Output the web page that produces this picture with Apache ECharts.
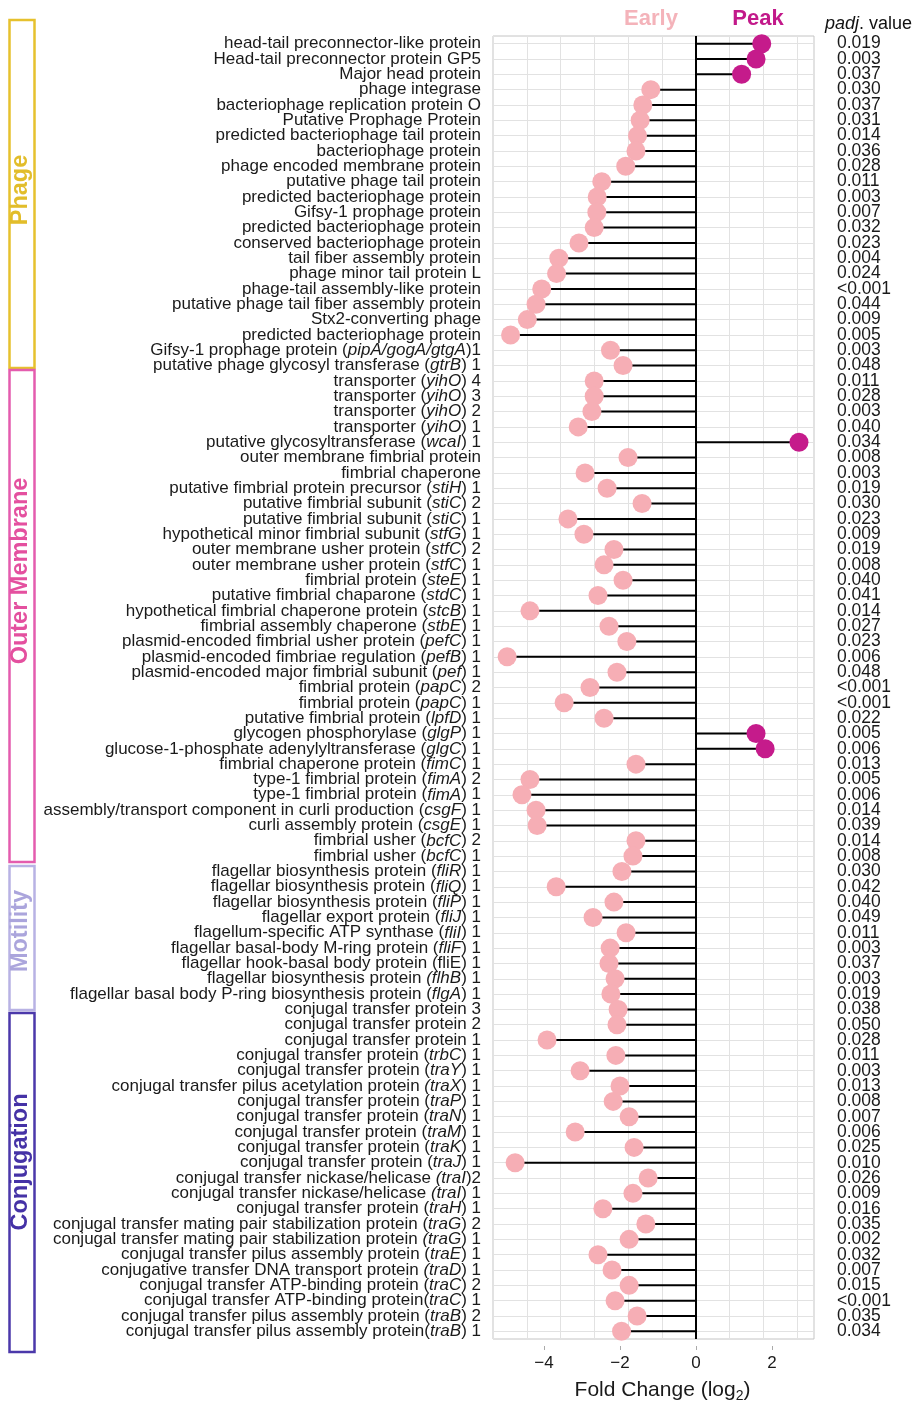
<!DOCTYPE html>
<html>
<head>
<meta charset="utf-8">
<script src="https://cdn.jsdelivr.net/npm/echarts@6/dist/echarts.min.js"></script>
<style>
  html, body { margin: 0; padding: 0; background: #ffffff; }
  #chart { width: 913px; height: 1408px; }
</style>
</head>
<body>
<div id="chart"></div>
<script>
// Gene descriptions, top to bottom; {i|...} marks italic gene names
const labels = [
  'head-tail preconnector-like protein',
  'Head-tail preconnector protein GP5',
  'Major head protein',
  'phage integrase',
  'bacteriophage replication protein O',
  'Putative Prophage Protein',
  'predicted bacteriophage tail protein',
  'bacteriophage protein',
  'phage encoded membrane protein',
  'putative phage tail protein',
  'predicted bacteriophage protein',
  'Gifsy-1 prophage protein',
  'predicted bacteriophage protein',
  'conserved bacteriophage protein',
  'tail fiber assembly protein',
  'phage minor tail protein L',
  'phage-tail assembly-like protein',
  'putative phage tail fiber assembly protein',
  'Stx2-converting phage',
  'predicted bacteriophage protein',
  'Gifsy-1 prophage protein ({i|pipA/gogA/gtgA})1',
  'putative phage glycosyl transferase ({i|gtrB}) 1',
  'transporter ({i|yihO}) 4',
  'transporter ({i|yihO}) 3',
  'transporter ({i|yihO}) 2',
  'transporter ({i|yihO}) 1',
  'putative glycosyltransferase ({i|wcaI}) 1',
  'outer membrane fimbrial protein',
  'fimbrial chaperone',
  'putative fimbrial protein precursor ({i|stiH}) 1',
  'putative fimbrial subunit ({i|stiC}) 2',
  'putative fimbrial subunit ({i|stiC}) 1',
  'hypothetical minor fimbrial subunit ({i|stfG}) 1',
  'outer membrane usher protein ({i|stfC}) 2',
  'outer membrane usher protein ({i|stfC}) 1',
  'fimbrial protein ({i|steE}) 1',
  'putative fimbrial chaparone ({i|stdC}) 1',
  'hypothetical fimbrial chaperone protein ({i|stcB}) 1',
  'fimbrial assembly chaperone ({i|stbE}) 1',
  'plasmid-encoded fimbrial usher protein ({i|pefC}) 1',
  'plasmid-encoded fimbriae regulation ({i|pefB}) 1',
  'plasmid-encoded major fimbrial subunit ({i|pef}) 1',
  'fimbrial protein ({i|papC}) 2',
  'fimbrial protein ({i|papC}) 1',
  'putative fimbrial protein ({i|lpfD}) 1',
  'glycogen phosphorylase ({i|glgP}) 1',
  'glucose-1-phosphate adenylyltransferase ({i|glgC}) 1',
  'fimbrial chaperone protein ({i|fimC}) 1',
  'type-1 fimbrial protein ({i|fimA}) 2',
  'type-1 fimbrial protein ({i|fimA}) 1',
  'assembly/transport component in curli production ({i|csgF}) 1',
  'curli assembly protein ({i|csgE}) 1',
  'fimbrial usher ({i|bcfC}) 2',
  'fimbrial usher ({i|bcfC}) 1',
  'flagellar biosynthesis protein ({i|fliR}) 1',
  'flagellar biosynthesis protein ({i|fliQ}) 1',
  'flagellar biosynthesis protein ({i|fliP}) 1',
  'flagellar export protein ({i|fliJ}) 1',
  'flagellum-specific ATP synthase ({i|fliI}) 1',
  'flagellar basal-body M-ring protein ({i|fliF}) 1',
  'flagellar hook-basal body protein (fliE) 1',
  'flagellar biosynthesis protein {i|(flhB}) 1',
  'flagellar basal body P-ring biosynthesis protein ({i|flgA}) 1',
  'conjugal transfer protein 3',
  'conjugal transfer protein 2',
  'conjugal transfer protein 1',
  'conjugal transfer protein ({i|trbC}) 1',
  'conjugal transfer protein ({i|traY}) 1',
  'conjugal transfer pilus acetylation protein {i|(traX}) 1',
  'conjugal transfer protein ({i|traP}) 1',
  'conjugal transfer protein ({i|traN}) 1',
  'conjugal transfer protein ({i|traM}) 1',
  'conjugal transfer protein ({i|traK}) 1',
  'conjugal transfer protein ({i|traJ}) 1',
  'conjugal transfer nickase/helicase {i|(traI})2',
  'conjugal transfer nickase/helicase {i|(traI}) 1',
  'conjugal transfer protein ({i|traH}) 1',
  'conjugal transfer mating pair stabilization protein ({i|traG}) 2',
  'conjugal transfer mating pair stabilization protein {i|(traG}) 1',
  'conjugal transfer pilus assembly protein ({i|traE}) 1',
  'conjugative transfer DNA transport protein {i|(traD}) 1',
  'conjugal transfer ATP-binding protein ({i|traC}) 2',
  'conjugal transfer ATP-binding protein({i|traC}) 1',
  'conjugal transfer pilus assembly protein ({i|traB}) 2',
  'conjugal transfer pilus assembly protein({i|traB}) 1'
];

// log2 fold change for each gene (positive = Peak, negative = Early)
const foldChange = [
  1.73, 1.58, 1.20, -1.19, -1.40, -1.47, -1.54, -1.58, -1.85, -2.48,
  -2.60, -2.61, -2.68, -3.08, -3.61, -3.67, -4.06, -4.21, -4.44, -4.88,
  -2.25, -1.92,
  -2.68, -2.68, -2.74, -3.10, 2.71, -1.79, -2.92, -2.34, -1.42, -3.37,
  -2.95, -2.16, -2.42, -1.92, -2.58, -4.37, -2.29, -1.82, -4.97, -2.08,
  -2.79, -3.47, -2.42, 1.58, 1.82, -1.58, -4.37, -4.58, -4.21, -4.18,
  -1.58, -1.66,
  -1.95, -3.68, -2.16, -2.71, -1.84, -2.26, -2.29, -2.13, -2.24,
  -2.05, -2.08, -3.92, -2.11, -3.05, -2.00, -2.18, -1.76, -3.18, -1.63,
  -4.76, -1.26, -1.66, -2.45, -1.32, -1.76, -2.58, -2.21, -1.76, -2.13,
  -1.55, -1.96
];

// adjusted p-values, same order
const padj = [
  '0.019', '0.003', '0.037', '0.030', '0.037', '0.031', '0.014', '0.036', '0.028', '0.011',
  '0.003', '0.007', '0.032', '0.023', '0.004', '0.024', '<0.001', '0.044', '0.009', '0.005',
  '0.003', '0.048',
  '0.011', '0.028', '0.003', '0.040', '0.034', '0.008', '0.003', '0.019', '0.030', '0.023',
  '0.009', '0.019', '0.008', '0.040', '0.041', '0.014', '0.027', '0.023', '0.006', '0.048',
  '<0.001', '<0.001', '0.022', '0.005', '0.006', '0.013', '0.005', '0.006', '0.014', '0.039',
  '0.014', '0.008',
  '0.030', '0.042', '0.040', '0.049', '0.011', '0.003', '0.037', '0.003', '0.019',
  '0.038', '0.050', '0.028', '0.011', '0.003', '0.013', '0.008', '0.007', '0.006', '0.025',
  '0.010', '0.026', '0.009', '0.016', '0.035', '0.002', '0.032', '0.007', '0.015', '<0.001',
  '0.035', '0.034'
];

const xTicks = [-4, -2, 0, 2];

// functional groups: name, colour, bracket extent on the page
const groups = [
  { name: 'Phage',          color: '#E6C12E', text: '#E2BD2A', top: 20,   bottom: 368,  mid: 190 },
  { name: 'Outer Membrane', color: '#E45CAE', text: '#E4509F', top: 370,  bottom: 862,  mid: 571 },
  { name: 'Motility',       color: '#B8B2E4', text: '#ABA5DC', top: 866,  bottom: 1010, mid: 931 },
  { name: 'Conjugation',    color: '#4B38AA', text: '#4532A6', top: 1013, bottom: 1352, mid: 1162 }
];

const EARLY = '#F6AEB5';
const PEAK = '#C51B8B';
const GRID = '#e2e2e2';
const FONT = '"Liberation Sans", Arial, Helvetica, sans-serif';

const earlyPts = [], peakPts = [];
foldChange.forEach((v, i) => (v < 0 ? earlyPts : peakPts).push([v, i]));

const graphics = [];
groups.forEach(g => {
  graphics.push({
    type: 'rect', silent: true,
    shape: { x: 9.5, y: g.top, width: 25, height: g.bottom - g.top },
    style: { fill: 'none', stroke: g.color, lineWidth: 2.5 }
  });
  graphics.push({
    type: 'text', silent: true, x: 21, y: g.mid, rotation: Math.PI / 2,
    style: { text: g.name, fill: g.text, font: 'bold 23.5px ' + FONT, align: 'center', verticalAlign: 'middle' }
  });
});
graphics.push(
  { type: 'text', silent: true, x: 651, y: 19,
    style: { text: 'Early', fill: '#F4B3BA', font: 'bold 22px ' + FONT, align: 'center', verticalAlign: 'middle' } },
  { type: 'text', silent: true, x: 758, y: 19,
    style: { text: 'Peak', fill: '#C2198A', font: 'bold 22px ' + FONT, align: 'center', verticalAlign: 'middle' } },
  { type: 'text', silent: true, x: 825, y: 24,
    style: { text: '{i|padj}. value', fill: '#111', font: '18px ' + FONT, align: 'left', verticalAlign: 'middle',
      rich: { i: { fontStyle: 'italic', fontSize: 18, fontFamily: FONT, fill: '#111' } } } }
);

const chart = echarts.init(document.getElementById('chart'), null, { renderer: 'canvas' });
chart.setOption({
  backgroundColor: '#ffffff',
  animation: false,
  textStyle: { fontFamily: FONT },
  grid: {
    left: 493, top: 36, width: 321, height: 1308,
    show: true, borderColor: '#c4c4c4', borderWidth: 1, backgroundColor: 'transparent',
    containLabel: false
  },
  xAxis: [
    {
      type: 'value', gridIndex: 0, position: 'bottom',
      min: -5.342, max: 3.105, offset: 7,
      axisLine: { show: false },
      axisTick: { show: true, customValues: xTicks, length: 4, lineStyle: { color: '#aaaaaa' } },
      axisLabel: {
        customValues: xTicks, fontSize: 17, color: '#1a1a1a', margin: 9,
        formatter: v => String(v).replace('-', '\u2212')
      },
      splitLine: { show: false },
      name: 'Fold Change (log{s|2})',
      nameLocation: 'middle', nameGap: 31,
      nameTextStyle: {
        fontSize: 21, color: '#1a1a1a', lineHeight: 26, padding: [0, 0, 0, 18],
        rich: { s: { fontSize: 14, lineHeight: 14, verticalAlign: 'bottom', color: '#1a1a1a' } }
      }
    },
    {
      // light vertical grid
      type: 'value', gridIndex: 0, position: 'top',
      min: -6, max: 3.5, interval: 1,
      axisLine: { show: false }, axisTick: { show: false }, axisLabel: { show: false },
      splitLine: { show: true, lineStyle: { color: GRID, width: 1 } }
    }
  ],
  yAxis: [
    {
      type: 'category', gridIndex: 0, inverse: true, data: labels,
      position: 'left', offset: 4,
      axisLine: { show: false },
      axisTick: { show: true, alignWithLabel: true, interval: 0, length: 5, lineStyle: { color: '#aaaaaa' } },
      axisLabel: {
        interval: 0, fontSize: 17, color: '#1a1a1a', margin: 8,
        rich: { i: { fontStyle: 'italic', fontSize: 17, fontFamily: FONT, color: '#1a1a1a' } }
      },
      splitLine: { show: false }
    },
    {
      type: 'category', gridIndex: 0, inverse: true, data: padj,
      position: 'right',
      axisLine: { show: false }, axisTick: { show: false },
      axisLabel: { interval: 0, fontSize: 17.5, color: '#1a1a1a', margin: 23, align: 'left' },
      splitLine: { show: false }
    }
  ],
  graphic: graphics,
  series: [
    {
      // horizontal grid line through every gene row
      name: 'rows', type: 'line', xAxisIndex: 0, yAxisIndex: 0,
      data: [], silent: true, z: 1,
      markLine: {
        silent: true, symbol: 'none', label: { show: false }, animation: false, z: 1,
        lineStyle: { color: GRID, width: 1, type: 'solid' },
        data: labels.map((_, i) => ({ yAxis: i }))
      }
    },
    {
      name: 'stem', type: 'bar', xAxisIndex: 0, yAxisIndex: 0,
      data: foldChange, barWidth: 2, silent: true, z: 2,
      itemStyle: { color: '#000000' },
      markLine: {
        silent: true, symbol: 'none', label: { show: false }, z: 2,
        lineStyle: { color: '#000000', width: 2, type: 'solid' },
        data: [{ xAxis: 0 }]
      }
    },
    {
      name: 'Early', type: 'scatter', xAxisIndex: 0, yAxisIndex: 0,
      data: earlyPts, symbolSize: 19, z: 3,
      itemStyle: { color: EARLY, opacity: 1 }
    },
    {
      name: 'Peak', type: 'scatter', xAxisIndex: 0, yAxisIndex: 0,
      data: peakPts, symbolSize: 19, z: 3,
      itemStyle: { color: PEAK, opacity: 1 }
    }
  ]
});
</script>
</body>
</html>
